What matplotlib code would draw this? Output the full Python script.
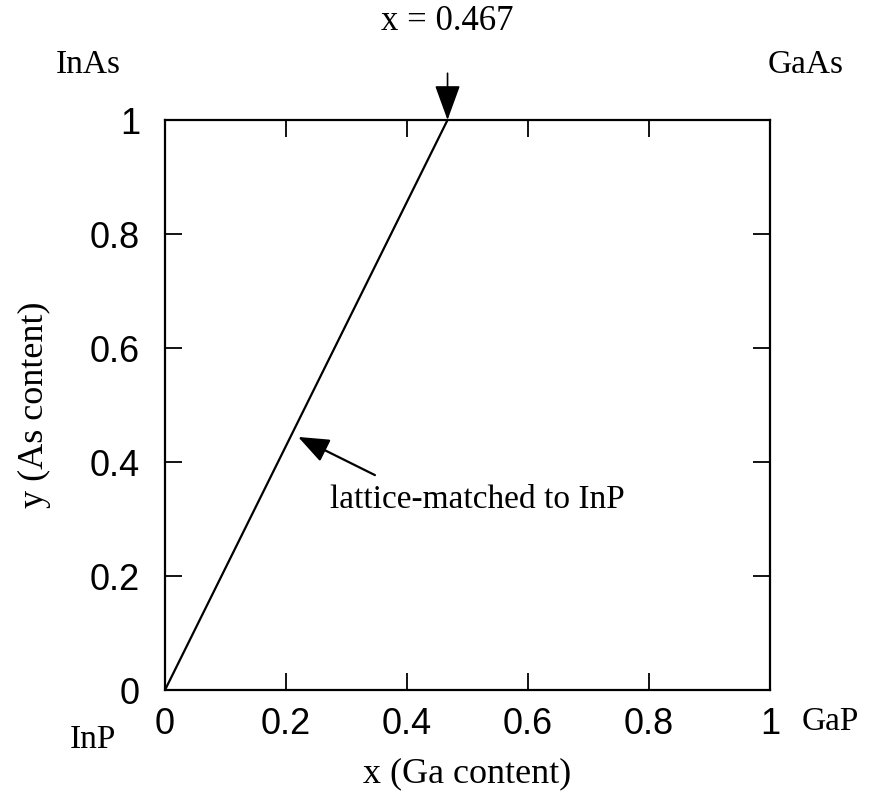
import matplotlib
matplotlib.use("Agg")
import matplotlib.pyplot as plt

# lattice-matched line: InGaAsP on InP, x (Ga) vs y (As)
x_line = [0.0, 0.467]
y_line = [0.0, 1.0]
ticks = [0, 0.2, 0.4, 0.6, 0.8, 1]
tick_labels = ["0", "0.2", "0.4", "0.6", "0.8", "1"]
corners = {"InAs": (88, 65), "GaAs": (806, 65), "InP": (93, 740), "GaP": (830, 722)}

W, H = 876, 792
fig = plt.figure(figsize=(W / 100, H / 100), dpi=100)
ax = fig.add_axes([165 / W, 1 - 690 / H, 605 / W, 570 / H])

SERIF = "Liberation Serif"
SANS = "Liberation Sans"

ax.plot(x_line, y_line, color="black", lw=1.6)
ax.set_xlim(0, 1)
ax.set_ylim(0, 1)
ax.set_xticks(ticks)
ax.set_yticks(ticks)
ax.set_xticklabels(tick_labels, fontfamily=SANS, fontsize=26)
ax.set_yticklabels(tick_labels, fontfamily=SANS, fontsize=26)
ax.tick_params(direction="in", length=12, width=1.3, top=True, right=True)
ax.tick_params(axis="x", pad=12)
ax.tick_params(axis="y", pad=18)
for s in ax.spines.values():
    s.set_linewidth(1.6)

ax.set_xlabel("x (Ga content)", fontfamily=SERIF, fontsize=26, labelpad=11)
ax.set_ylabel("y (As content)", fontfamily=SERIF, fontsize=26, labelpad=28)

# top marker
ax.annotate("", xy=(0.467, 1.0), xytext=(0.467, 1.082), annotation_clip=False,
            arrowprops=dict(arrowstyle="-|>,head_length=2.2,head_width=0.8",
                            color="black", lw=1.2, shrinkA=0, shrinkB=0))
ax.text(0.467, 1.172, "x = 0.467", ha="center", va="center",
        fontfamily=SERIF, fontsize=25, clip_on=False)

# lattice-matched label
ax.annotate("", xy=(0.22, 0.444), xytext=(0.347, 0.377),
            arrowprops=dict(arrowstyle="-|>,head_length=1.9,head_width=0.75",
                            color="black", lw=1.6, shrinkA=0, shrinkB=0))
ax.text(0.273, 0.333, "lattice-matched to InP", ha="left", va="center",
        fontfamily=SERIF, fontsize=24)

for name, (px, py) in corners.items():
    fig.text(px / W, 1 - py / H, name, ha="center", va="center",
             fontfamily=SERIF, fontsize=24)

fig.savefig("out.png", dpi=100)
